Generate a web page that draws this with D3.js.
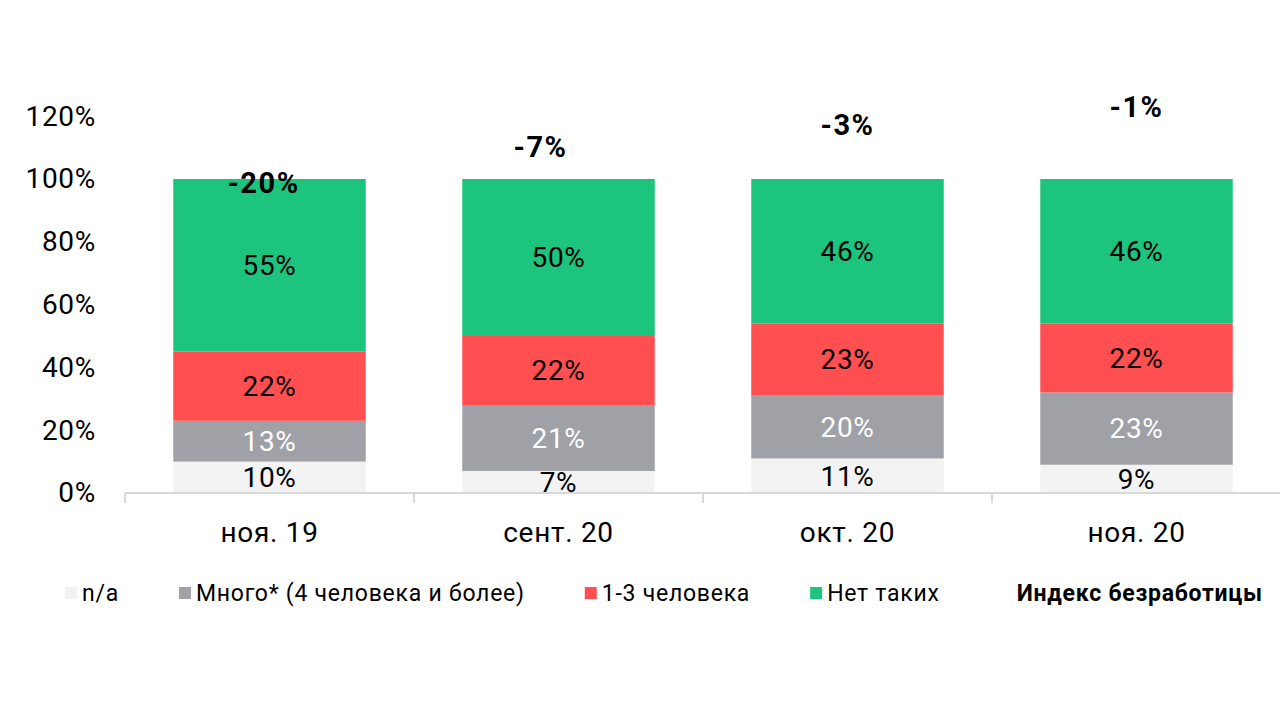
<!DOCTYPE html>
<html>
<head>
<meta charset="utf-8">
<script src="https://cdn.jsdelivr.net/npm/d3@7"></script>
<style>
  html, body { margin: 0; padding: 0; background: #fff; }
  svg { display: block; }
</style>
</head>
<body>
<svg id="svg" width="1280" height="720"></svg>
<script>
const categories = ['ноя. 19', 'сент. 20', 'окт. 20', 'ноя. 20'];
const seriesNames = ['n/a', 'Много* (4 человека и более)', '1-3 человека', 'Нет таких'];
const naValues = [0.10, 0.07, 0.11, 0.09];
const manyValues = [0.13, 0.21, 0.20, 0.23];
const fewValues = [0.22, 0.22, 0.23, 0.22];
const noneValues = [0.55, 0.50, 0.46, 0.46];
const indexName = 'Индекс безработицы';
const indexValues = [-0.20, -0.07, -0.03, -0.01];
// where the (hidden) index series sits
const indexLevels = [0.987, 1.103, 1.172, 1.229];
const yTicks = [0, 0.2, 0.4, 0.6, 0.8, 1.0, 1.2];

const colors = ['#f2f3f2', '#a0a0a7', '#ff4f51', '#1cc47d'];
const labelColors = ['#000', '#fff', '#000', '#000'];
// hand-dragged index labels in the original
const indexLabelNudge = [-6, -18, 0, 0];

const svg = d3.select('#svg');
const plot = { left: 125, right: 1281, top: 116.2, bottom: 493 };
const font = 'Roboto, "Noto Sans", sans-serif';
const pct = d3.formatLocale({
  decimal: '.', thousands: ',', grouping: [3], currency: ['', ''], minus: '-'
}).format('.0%');

const rows = categories.map((c, i) => ({
  cat: c,
  s0: naValues[i],
  s1: manyValues[i],
  s2: fewValues[i],
  s3: noneValues[i]
}));
const keys = ['s0', 's1', 's2', 's3'];
const stacked = d3.stack().keys(keys)(rows);

const x = d3.scaleBand()
  .domain(categories)
  .range([plot.left, plot.right])
  .paddingInner(0.334)
  .paddingOuter(0.167);
const y = d3.scaleLinear().domain([0, 1.2]).range([plot.bottom, plot.top]);

const styleText = function(sel, size, bold, spacing) {
  sel.attr('font-family', font)
    .attr('font-size', size)
    .attr('font-weight', bold ? 'bold' : 'normal')
    .attr('letter-spacing', spacing);
};

// y axis labels (no line)
const yAxis = svg.append('g')
  .attr('transform', 'translate(' + (plot.left - 29) + ',0)')
  .call(d3.axisLeft(y).tickValues(yTicks).tickFormat(pct).tickSize(0).tickPadding(0));
yAxis.select('.domain').remove();
yAxis.selectAll('text')
  .attr('fill', '#000')
  .call(styleText, 28, false, 0.7);

// bars
const layers = svg.append('g').selectAll('g')
  .data(stacked)
  .join('g')
  .attr('fill', (d, i) => colors[i]);
layers.selectAll('rect')
  .data(d => d)
  .join('rect')
  .attr('x', d => x(d.data.cat))
  .attr('width', x.bandwidth())
  .attr('y', d => y(d[1]))
  .attr('height', d => y(d[0]) - y(d[1]));

// x axis line with category separators
const gap = x.step() - x.bandwidth();
const bounds = categories.map(c => x(c) - gap / 2)
  .concat([x(categories[categories.length - 1]) + x.bandwidth() + gap / 2]);
const xAxis = svg.append('g');
xAxis.append('line')
  .attr('x1', plot.left).attr('x2', plot.right)
  .attr('y1', y(0)).attr('y2', y(0))
  .attr('stroke', '#d9d9d9').attr('stroke-width', 2);
xAxis.selectAll('line.sep')
  .data(bounds)
  .join('line')
  .attr('class', 'sep')
  .attr('x1', d => d).attr('x2', d => d)
  .attr('y1', y(0)).attr('y2', y(0) + 10)
  .attr('stroke', '#d9d9d9').attr('stroke-width', 2);
xAxis.selectAll('text')
  .data(categories)
  .join('text')
  .attr('x', d => x(d) + x.bandwidth() / 2)
  .attr('y', y(0) + 39)
  .attr('dy', '0.35em')
  .attr('text-anchor', 'middle')
  .attr('fill', '#000')
  .call(styleText, 28, false, 0.7)
  .text(d => d);

// segment labels
const labels = svg.append('g').selectAll('g')
  .data(stacked)
  .join('g')
  .attr('fill', (d, i) => labelColors[i]);
labels.selectAll('text')
  .data(d => d)
  .join('text')
  .attr('x', d => x(d.data.cat) + x.bandwidth() / 2)
  .attr('y', d => y((d[0] + d[1]) / 2))
  .attr('dy', '0.35em')
  .attr('text-anchor', 'middle')
  .call(styleText, 28, false, 0.7)
  .text(d => pct(d[1] - d[0]));

// index labels
svg.append('g').selectAll('text')
  .data(indexValues)
  .join('text')
  .attr('x', (d, i) => x(categories[i]) + x.bandwidth() / 2 + indexLabelNudge[i])
  .attr('y', (d, i) => y(indexLevels[i]))
  .attr('dy', '0.35em')
  .attr('text-anchor', 'middle')
  .attr('fill', '#000')
  .call(styleText, 29, true, 1.5)
  .text(d => pct(d));

// legend
const legendItems = seriesNames.map((n, i) => ({ name: n, color: colors[i], bold: false }))
  .concat([{ name: indexName, color: 'none', bold: true }]);
const legend = svg.append('g').attr('transform', 'translate(0,593)');
let lx = 65;
legendItems.forEach(item => {
  legend.append('rect')
    .attr('x', lx).attr('y', -6)
    .attr('width', 12).attr('height', 12)
    .attr('fill', item.color);
  const t = legend.append('text')
    .attr('x', lx + 17)
    .attr('dy', '0.35em')
    .attr('fill', '#000')
    .call(styleText, 23, item.bold, 0.75)
    .text(item.name);
  lx += 17 + t.node().getComputedTextLength() + 60;
});
</script>
</body>
</html>
